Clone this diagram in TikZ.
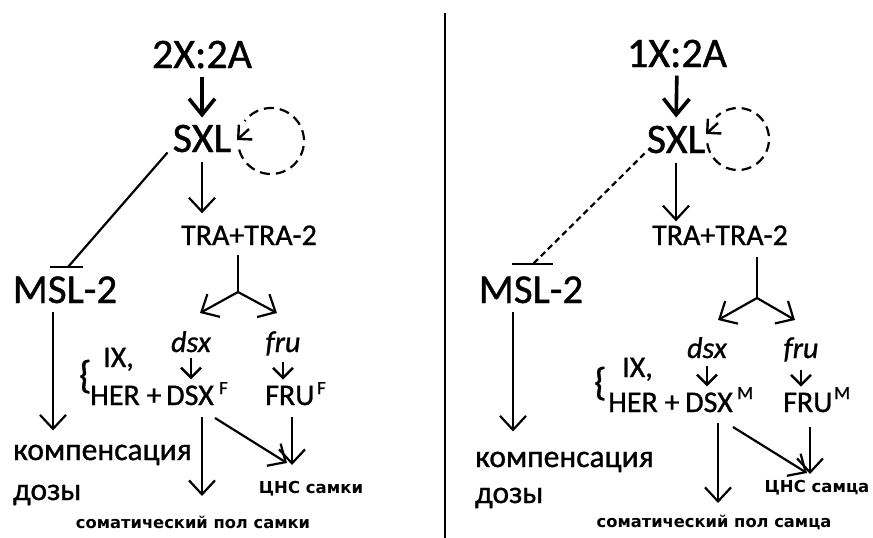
\documentclass[tikz,border=0pt]{standalone}
\usepackage{fontspec}
\setmainfont{Carlito}[FakeBold=1]
\newfontfamily\resfont{DejaVu Sans}
\usetikzlibrary{arrows.meta}
\begin{document}
\begin{tikzpicture}[x=1pt,y=-1pt,
  txt/.style={inner sep=0pt, anchor=base},
  big/.style={txt, font=\fontsize{42}{42}\selectfont},
  msl/.style={txt, font=\fontsize{41}{41}\selectfont},
  tra/.style={txt, font=\fontsize{30}{30}\selectfont},
  gene/.style={txt, font=\fontsize{30}{30}\selectfont\itshape},
  prot/.style={txt, font=\fontsize{30}{30}\selectfont},
  supr/.style={txt, font=\fontsize{18.5}{18.5}\selectfont},
  komp/.style={txt, anchor=base west, font=\fontsize{31.5}{31.5}\selectfont},
  res/.style={txt, font=\fontsize{16.5}{16.5}\resfont\bfseries},
  soma/.style={txt, font=\fontsize{16.3}{16.3}\resfont\bfseries},
  brc/.style={txt, anchor=base west, font=\fontsize{39}{39}\selectfont},
  ln/.style={line width=2.2pt},
  arr/.style={ln, -{Straight Barb[length=14pt,width=26pt]}},
  sarr/.style={line width=2.4pt, -{Straight Barb[length=10pt,width=20pt]}},
  thk/.style={line width=3.6pt, -{Straight Barb[length=16pt,width=26pt]}},
  loop/.style={line width=2.2pt, dash pattern=on 10pt off 6pt},
  looptip/.style={line width=2.4pt, -{Straight Barb[length=10pt,width=20pt]}},
]
\fill[white] (0,0) rectangle (873,538);
\path[use as bounding box] (0,0) rectangle (873,538);

% separator
\draw[line width=2.2pt] (445,13) -- (445,538);

%%%%%%%%%%%%%%%% LEFT PANEL
\node[big] (x2L) at (202,68) {2X:2A};
\node[big] (sxlL) at (202,152) {SXL};
\node[tra] (traL) at (249,245) {TRA+TRA-2};
\node[msl] (mslL) at (65,303) {MSL-2};
\node[komp] (kompL) at (13,460) {компенсация};
\node[komp] (dozL) at (13,500) {дозы};
\node[gene] (dsxL) at (191,352) {dsx};
\node[gene] (fruL) at (283,352) {fru};
\node[brc] (brL) at (79,388) {\{};
\node[prot, anchor=base west] (ixL) at (103,367) {IX,};
\node[prot, anchor=base west] (herL) at (90,405) {HER +};
\node[prot, anchor=base west] (DSXL) at (166,405) {DSX};
\node[supr, anchor=base west] (supDL) at (219,394) {F};
\node[prot, anchor=base west] (FRUL) at (265,405) {FRU};
\node[supr, anchor=base west] (supFL) at (317,394) {F};
\node[res] (cnsL) at (311,493) {ЦНС самки};
\node[soma] (somL) at (193,528) {соматический пол самки};

\coordinate (cL) at (271,141);
\coordinate (lsL) at (249,129);
\coordinate (ltL) at (237,140);
\coordinate (tL) at (68,267);
\coordinate (bL) at (238,292);
\coordinate (blL) at (200,313);
\coordinate (brrL) at (277,313);
\coordinate (d1L) at (202,417);
\coordinate (d2L) at (202,496);
\coordinate (g1L) at (215,418);
\coordinate (g2L) at (287,463);
\coordinate (f1L) at (292,417);
\coordinate (f2L) at (292,465);

\draw[thk, shorten <=8pt, shorten >=7pt] (x2L.south) -- (sxlL.north);
\draw[loop] (cL) ++(165:33) arc[start angle=165, end angle=-143, radius=33];
\draw[looptip] (lsL) -- (ltL);
\draw[ln] ([xshift=-5pt]sxlL.south west) -- (tL);
\draw[ln] ([xshift=-18pt]tL) -- ([xshift=15pt]tL);
\draw[arr, shorten <=10pt, shorten >=12pt] (sxlL.south) -- (sxlL.south |- traL.north);
\draw[ln, shorten <=10pt] (bL |- traL.south) -- (bL);
\draw[arr] (bL) -- (blL);
\draw[arr] (bL) -- (brrL);
\draw[arr, shorten <=9pt, shorten >=14pt] ([xshift=-12pt]mslL.south) -- ([xshift=-12pt]mslL.south |- kompL.north);
\draw[sarr, shorten <=6pt, shorten >=6pt] (dsxL.south) -- (dsxL.south |- DSXL.north);
\draw[sarr, shorten <=6pt, shorten >=6pt] (fruL.south) -- (fruL.south |- FRUL.north);
\draw[arr] (d1L) -- (d2L);
\draw[arr] (g1L) -- (g2L);
\draw[arr] (f1L) -- (f2L);

%%%%%%%%%%%%%%%% RIGHT PANEL
\node[big] (x1R) at (677,67) {1X:2A};
\node[big] (sxlR) at (676,153) {SXL};
\node[tra] (traR) at (720,245) {TRA+TRA-2};
\node[msl] (mslR) at (531,303) {MSL-2};
\node[komp] (kompR) at (475,467) {компенсация};
\node[komp] (dozR) at (475,503) {дозы};
\node[gene] (dsxR) at (707,358) {dsx};
\node[gene] (fruR) at (801,358) {fru};
\node[brc] (brR) at (594,395) {\{};
\node[prot, anchor=base west] (ixR) at (622,377) {IX,};
\node[prot, anchor=base west] (herR) at (608,412) {HER +};
\node[prot, anchor=base west] (DSXR) at (685,412) {DSX};
\node[supr, anchor=base west] (supDR) at (737,399) {M};
\node[prot, anchor=base west] (FRUR) at (783,412) {FRU};
\node[supr, anchor=base west] (supFR) at (834,399) {M};
\node[res] (cnsR) at (817,492) {ЦНС самца};
\node[soma] (somR) at (714,527) {соматический пол самца};

\coordinate (cR) at (738,139);
\coordinate (lsR) at (718,123);
\coordinate (ltR) at (706,134);
\coordinate (tR) at (533,264);
\coordinate (bR) at (757,298);
\coordinate (blR) at (718,320);
\coordinate (brrR) at (795,320);
\coordinate (d1R) at (718,423);
\coordinate (d2R) at (718,503);
\coordinate (g1R) at (733,427);
\coordinate (g2R) at (807,473);
\coordinate (f1R) at (810,427);
\coordinate (f2R) at (810,474);

\draw[thk, shorten <=8pt, shorten >=8pt] (x1R.south) -- (sxlR.north);
\draw[loop] (cR) ++(172:31) arc[start angle=172, end angle=-135, radius=31];
\draw[looptip] (lsR) -- (ltR);
\draw[ln, dash pattern=on 6pt off 4pt] ([xshift=-2pt]sxlR.south west) -- (tR);
\draw[ln] ([xshift=-21pt]tR) -- ([xshift=20pt]tR);
\draw[arr, shorten <=10pt, shorten >=4pt] (sxlR.south) -- (sxlR.south |- traR.north);
\draw[ln, shorten <=12pt] (bR |- traR.south) -- (bR);
\draw[arr] (bR) -- (blR);
\draw[arr] (bR) -- (brrR);
\draw[arr, shorten <=9pt, shorten >=20pt] ([xshift=-18pt]mslR.south) -- ([xshift=-18pt]mslR.south |- kompR.north);
\draw[sarr, shorten <=8pt, shorten >=6pt] (dsxR.south) -- (dsxR.south |- DSXR.north);
\draw[sarr, shorten <=8pt, shorten >=6pt] (fruR.south) -- (fruR.south |- FRUR.north);
\draw[arr] (d1R) -- (d2R);
\draw[arr] (g1R) -- (g2R);
\draw[arr] (f1R) -- (f2R);
\end{tikzpicture}
\end{document}
